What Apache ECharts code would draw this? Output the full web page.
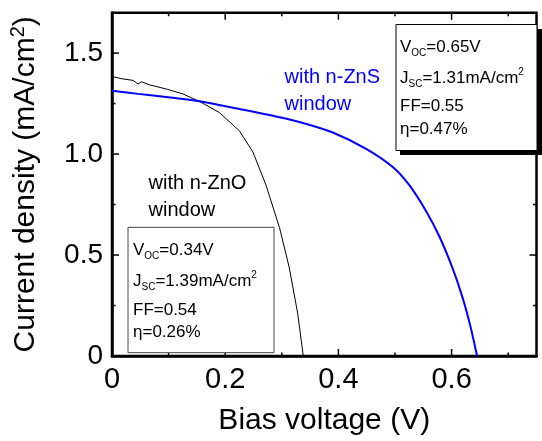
<!DOCTYPE html>
<html>
<head>
<meta charset="utf-8">
<script src="https://cdn.jsdelivr.net/npm/echarts@6/dist/echarts.min.js"></script>
<style>
html, body { margin: 0; padding: 0; background: #fff; }
#chart { width: 542px; height: 441px; }
</style>
</head>
<body>
<div id="chart"></div>
<script>
// J-V curves
var znoV = [0, 0.019, 0.037, 0.046, 0.052, 0.066, 0.096, 0.125, 0.155, 0.190, 0.225, 0.249, 0.272, 0.296, 0.313, 0.328, 0.338];
var znoJ = [1.384, 1.372, 1.365, 1.347, 1.358, 1.343, 1.322, 1.298, 1.260, 1.205, 1.115, 1.010, 0.847, 0.635, 0.440, 0.212, 0];
var znsV = [0, 0.046, 0.107, 0.155, 0.229, 0.290, 0.331, 0.390, 0.449, 0.496, 0.525, 0.555, 0.578, 0.601, 0.619, 0.633, 0.645];
var znsJ = [1.314, 1.298, 1.279, 1.262, 1.221, 1.186, 1.159, 1.107, 1.026, 0.936, 0.847, 0.717, 0.594, 0.440, 0.293, 0.150, 0];

var xLabels = ['0', '0.2', '0.4', '0.6'];
var yLabels = ['0', '0.5', '1.0', '1.5'];
// tick positions (every one on all four sides, the labelled ones longer)
var xTickVals = [0, 0.1, 0.2, 0.3, 0.4, 0.5, 0.6, 0.7];
var yTickVals = [0, 0.25, 0.5, 0.75, 1.0, 1.25, 1.5];

var X_MIN = 0, X_MAX = 0.75, Y_MIN = 0, Y_MAX = 1.7;
var FONT = '"Liberation Sans", Arial, sans-serif';

function pairs(xs, ys) {
    var res = [];
    for (var i = 0; i < xs.length; i++) res.push([xs[i], ys[i]]);
    return res;
}

// [value, 0 = x tick / 1 = y tick, major flag]
var tickData = [];
xTickVals.forEach(function (v, i) { tickData.push([v, 0, i % 2 === 0 ? 1 : 0]); });
yTickVals.forEach(function (v, i) { tickData.push([v, 1, i % 2 === 0 ? 1 : 0]); });

function tickLine(x1, y1, x2, y2) {
    return { type: 'line', shape: { x1: x1, y1: y1, x2: x2, y2: y2 }, style: { stroke: '#000', lineWidth: 1.5 } };
}

function renderTick(params, api) {
    var v = api.value(0), isY = api.value(1) === 1, len = api.value(2) === 1 ? 7 : 3.5;
    var a, b;
    if (!isY) {
        a = api.coord([v, Y_MIN]);
        b = api.coord([v, Y_MAX]);
        return { type: 'group', children: [tickLine(a[0], a[1], a[0], a[1] - len), tickLine(b[0], b[1], b[0], b[1] + len)] };
    }
    a = api.coord([X_MIN, v]);
    b = api.coord([X_MAX, v]);
    return { type: 'group', children: [tickLine(a[0], a[1], a[0] + len, a[1]), tickLine(b[0], b[1], b[0] - len, b[1])] };
}

var boxRich = {
    n: { fontSize: 17, lineHeight: 22, fontFamily: FONT, color: '#000' },
    sub: { fontSize: 10, lineHeight: 10, verticalAlign: 'bottom', fontFamily: FONT, color: '#000' },
    sup: { fontSize: 10, lineHeight: 10, verticalAlign: 'top', fontFamily: FONT, color: '#000' }
};

function boxLine(x, y, text) {
    return {
        type: 'text', x: x, y: y, z: 110,
        style: { text: text, rich: boxRich, verticalAlign: 'middle', align: 'left' }
    };
}

var chart = echarts.init(document.getElementById('chart'));

var option = {
    backgroundColor: '#fff',
    animation: false,
    // grid border gives the top/right frame
    grid: { left: 112, right: 5.5, top: 12.7, bottom: 81, show: true, borderColor: '#000', borderWidth: 2.5 },
    xAxis: {
        type: 'value', min: X_MIN, max: X_MAX, interval: 0.1,
        axisLine: { show: true, lineStyle: { color: '#000', width: 2.5 } },
        axisTick: { show: false }, splitLine: { show: false },
        axisLabel: {
            fontSize: 29, fontFamily: FONT, color: '#000', margin: 9,
            formatter: function (v) {
                var k = Math.round(v * 5);
                return Math.abs(v * 5 - k) < 1e-6 && k < xLabels.length ? xLabels[k] : '';
            }
        },
        name: 'Bias voltage (V)', nameLocation: 'middle', nameGap: 50,
        nameTextStyle: { fontSize: 30, fontFamily: FONT, color: '#000' }
    },
    yAxis: {
        type: 'value', min: Y_MIN, max: Y_MAX, interval: 0.25,
        axisLine: { show: true, lineStyle: { color: '#000', width: 2.5 } },
        axisTick: { show: false }, splitLine: { show: false },
        axisLabel: {
            fontSize: 28, fontFamily: FONT, color: '#000', margin: 9,
            formatter: function (v) {
                var k = Math.round(v * 2);
                return Math.abs(v * 2 - k) < 1e-6 && k < yLabels.length ? yLabels[k] : '';
            }
        },
        name: '{t|Current density (mA/cm}{s|2}{t|)}', nameLocation: 'middle', nameGap: 68,
        nameTextStyle: {
            rich: {
                t: { fontSize: 30, lineHeight: 36, fontFamily: FONT, color: '#000' },
                s: { fontSize: 20, lineHeight: 20, verticalAlign: 'top', fontFamily: FONT, color: '#000' }
            }
        }
    },
    series: [
        {
            name: 'with n-ZnO window', type: 'line', showSymbol: false,
            data: pairs(znoV, znoJ),
            lineStyle: { color: '#000', width: 1 }
        },
        {
            name: 'with n-ZnS window', type: 'line', showSymbol: false, smooth: 0.3,
            data: pairs(znsV, znsJ),
            lineStyle: { color: '#0000ff', width: 2 }
        },
        {
            name: 'ticks', type: 'custom', silent: true, clip: false, z: 5,
            encode: { x: -1, y: -1 },
            data: tickData,
            renderItem: renderTick
        }
    ],
    graphic: [
        // curve labels
        {
            type: 'text', x: 284.5, y: 91.4, z: 100,
            style: { text: 'with n-ZnS\nwindow', fill: '#0000ff', fontSize: 20, lineHeight: 27, fontFamily: FONT, verticalAlign: 'middle' }
        },
        {
            type: 'text', x: 148.6, y: 197.3, z: 100,
            style: { text: 'with n-ZnO\nwindow', fill: '#000', fontSize: 20, lineHeight: 27, fontFamily: FONT, verticalAlign: 'middle' }
        },
        // ZnS box (with drop shadow)
        { type: 'rect', z: 100, shape: { x: 400, y: 29, width: 142, height: 126 }, style: { fill: '#000' } },
        { type: 'rect', z: 101, shape: { x: 396, y: 24.5, width: 141, height: 126 }, style: { fill: '#fff', stroke: '#000', lineWidth: 1 } },
        boxLine(400, 47, '{n|V}{sub|OC}{n|=0.65V}'),
        boxLine(400, 78, '{n|J}{sub|SC}{n|=1.31mA/cm}{sup|2}'),
        boxLine(400, 106.5, '{n|FF=0.55}'),
        boxLine(400, 129.5, '{n|η=0.47%}'),
        // ZnO box
        { type: 'rect', z: 101, shape: { x: 128, y: 227.3, width: 146, height: 125.4 }, style: { fill: '#fff', stroke: '#444', lineWidth: 1 } },
        boxLine(133, 250, '{n|V}{sub|OC}{n|=0.34V}'),
        boxLine(133, 281, '{n|J}{sub|SC}{n|=1.39mA/cm}{sup|2}'),
        boxLine(133, 310, '{n|FF=0.54}'),
        boxLine(133, 332, '{n|η=0.26%}')
    ]
};

chart.setOption(option);
</script>
</body>
</html>
